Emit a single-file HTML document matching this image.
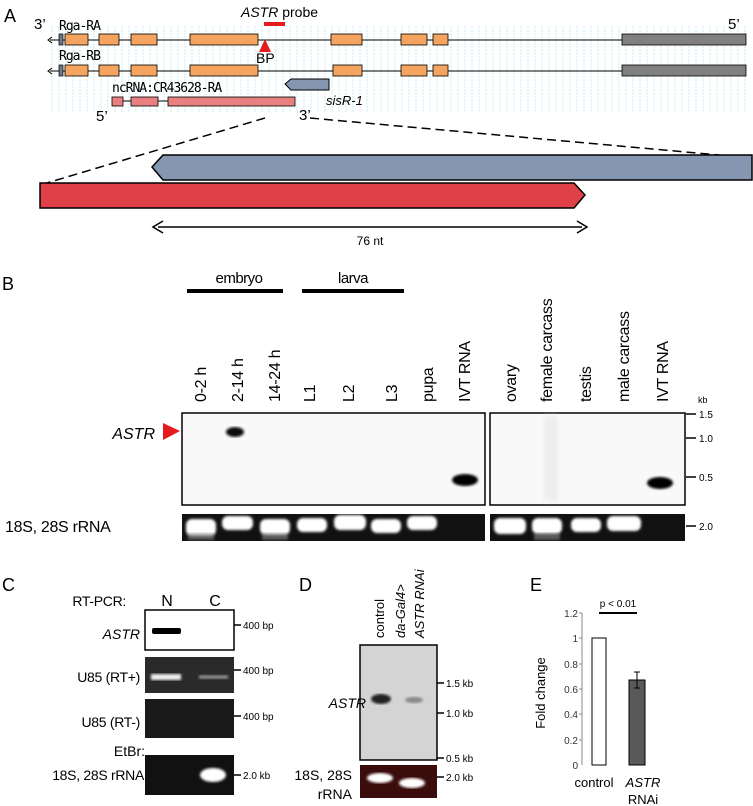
<!DOCTYPE html>
<html><head><meta charset="utf-8"><style>
body{margin:0;background:#fff}
svg{display:block;font-family:"Liberation Sans",sans-serif}
</style></head><body>
<svg width="753" height="806" viewBox="0 0 753 806" xmlns="http://www.w3.org/2000/svg">
<defs>
<pattern id="vl" width="7" height="10" patternUnits="userSpaceOnUse"><line x1="3" y1="0" x2="3" y2="10" stroke="#c8ecf0" stroke-width="1" stroke-dasharray="2,1"/></pattern>
<filter id="bl"><feGaussianBlur stdDeviation="2"/></filter>
<filter id="bl1"><feGaussianBlur stdDeviation="1.2"/></filter>
</defs>
<!-- Panel A -->
<rect x="50" y="26" width="700" height="86" fill="url(#vl)"/>
<text x="4" y="22" font-size="18">A</text>
<text x="34" y="29" font-size="15">3’</text>
<text x="728" y="29" font-size="15">5’</text>
<text x="241" y="17" font-size="14"><tspan font-style="italic">ASTR</tspan> probe</text>
<rect x="264" y="22" width="21" height="4" fill="#e41a1c"/>
<text x="59" y="30" font-size="13" font-family="DejaVu Sans Mono,monospace" letter-spacing="-1">Rga-RA</text>
<line x1="50" y1="40" x2="746" y2="40" stroke="#000"/>
<path d="M52 37 L48 40 L52 43" fill="none" stroke="#000"/>
<rect x="59" y="34" width="4" height="11" fill="#6a7a8a" stroke="#000" stroke-width="0.7"/>
<g fill="#f4a45e" stroke="#000" stroke-width="0.8">
<rect x="65" y="34" width="23" height="11"/><rect x="99" y="34" width="20" height="11"/><rect x="131" y="34" width="26" height="11"/><rect x="190" y="34" width="68" height="11"/><rect x="331" y="34" width="31" height="11"/><rect x="401" y="34" width="26" height="11"/><rect x="433" y="34" width="15" height="11"/>
</g>
<rect x="622" y="34" width="124" height="11" fill="#808080" stroke="#000" stroke-width="0.8"/>
<polygon points="265,39 259,52 271,52" fill="#e41a1c"/>
<text x="256" y="63" font-size="14">BP</text>
<text x="59" y="60" font-size="13" font-family="DejaVu Sans Mono,monospace" letter-spacing="-1">Rga-RB</text>
<line x1="50" y1="71" x2="746" y2="71" stroke="#000"/>
<path d="M52 68 L48 71 L52 74" fill="none" stroke="#000"/>
<rect x="59" y="65" width="4" height="11" fill="#6a7a8a" stroke="#000" stroke-width="0.7"/>
<g fill="#f4a45e" stroke="#000" stroke-width="0.8">
<rect x="65" y="65" width="23" height="11"/><rect x="99" y="65" width="20" height="11"/><rect x="131" y="65" width="26" height="11"/><rect x="190" y="65" width="68" height="11"/><rect x="333" y="65" width="29" height="11"/><rect x="401" y="65" width="26" height="11"/><rect x="433" y="65" width="15" height="11"/>
</g>
<rect x="622" y="65" width="124" height="11" fill="#808080" stroke="#000" stroke-width="0.8"/>
<polygon points="285,84 291,79 329,79 329,90 291,90" fill="#8496b0" stroke="#000" stroke-width="1"/>
<text x="326" y="105" font-size="13" font-style="italic">sisR-1</text>
<text x="112" y="92" font-size="13" font-family="DejaVu Sans Mono,monospace" letter-spacing="-1">ncRNA:CR43628-RA</text>
<line x1="112" y1="101" x2="295" y2="101" stroke="#000"/>
<g fill="#e88080" stroke="#000" stroke-width="0.8">
<rect x="112" y="97" width="11" height="9"/><rect x="131" y="97" width="27" height="9"/><rect x="168" y="97" width="127" height="9"/>
</g>
<text x="96" y="121" font-size="15">5’</text>
<text x="299" y="120" font-size="15">3’</text>
<line x1="265" y1="118" x2="40" y2="185" stroke="#000" stroke-width="1.5" stroke-dasharray="9,5"/>
<line x1="310" y1="118" x2="752" y2="158" stroke="#000" stroke-width="1.5" stroke-dasharray="9,5"/>
<polygon points="152,167 163,155 752,155 752,180 163,180" fill="#8496b0" stroke="#000" stroke-width="1.5"/>
<polygon points="40,183 574,183 585,195 574,208 40,208" fill="#e04048" stroke="#000" stroke-width="1.5"/>
<line x1="158" y1="227" x2="582" y2="227" stroke="#000" stroke-width="1.5"/>
<path d="M163 221 L153 227 L163 233 M577 221 L587 227 L577 233" fill="none" stroke="#000" stroke-width="1.5"/>
<text x="370" y="245" font-size="12" text-anchor="middle">76 nt</text>
<!-- Panel B -->
<text x="2" y="290" font-size="18">B</text>
<rect x="187" y="289" width="96" height="4" fill="#000"/>
<rect x="302" y="289" width="102" height="4" fill="#000"/>
<text x="239" y="283" font-size="15" text-anchor="middle" letter-spacing="-0.5">embryo</text>
<text x="353" y="283" font-size="15" text-anchor="middle" letter-spacing="-0.5">larva</text>
<g font-size="16" letter-spacing="-0.3">
<text transform="translate(206,402) rotate(-90)">0-2 h</text>
<text transform="translate(243,402) rotate(-90)">2-14 h</text>
<text transform="translate(280,402) rotate(-90)">14-24 h</text>
<text transform="translate(315,402) rotate(-90)">L1</text>
<text transform="translate(354,402) rotate(-90)">L2</text>
<text transform="translate(397,402) rotate(-90)">L3</text>
<text transform="translate(433,402) rotate(-90)">pupa</text>
<text transform="translate(470,402) rotate(-90)">IVT RNA</text>
<text transform="translate(516,402) rotate(-90)">ovary</text>
<text transform="translate(552,402) rotate(-90)">female carcass</text>
<text transform="translate(591,402) rotate(-90)">testis</text>
<text transform="translate(629,402) rotate(-90)">male carcass</text>
<text transform="translate(668,402) rotate(-90)">IVT RNA</text>
</g>
<rect x="182" y="413" width="303" height="92" fill="#f9f9f9" stroke="#000" stroke-width="1.5"/>
<rect x="490" y="413" width="195" height="92" fill="#f9f9f9" stroke="#000" stroke-width="1.5"/>
<rect x="544" y="416" width="14" height="85" fill="#eee" filter="url(#bl)"/>
<ellipse cx="235" cy="432" rx="9" ry="5" fill="#111" filter="url(#bl1)"/>
<ellipse cx="465" cy="480" rx="13" ry="6" fill="#000" filter="url(#bl1)"/>
<ellipse cx="660" cy="483" rx="13" ry="6" fill="#000" filter="url(#bl1)"/>
<text x="155" y="439" font-size="16" font-style="italic" text-anchor="end">ASTR</text>
<polygon points="163,423 180,431 163,440" fill="#e41a1c"/>
<text x="698" y="403" font-size="9">kb</text>
<g stroke="#000" stroke-width="1.5"><line x1="686" y1="414" x2="696" y2="414"/><line x1="686" y1="438" x2="696" y2="438"/><line x1="686" y1="477" x2="696" y2="477"/><line x1="686" y1="526" x2="696" y2="526"/></g>
<g font-size="10"><text x="699" y="418">1.5</text><text x="699" y="442">1.0</text><text x="699" y="481">0.5</text><text x="699" y="530">2.0</text></g>
<rect x="182" y="514" width="303" height="27" fill="#111"/>
<rect x="490" y="514" width="195" height="27" fill="#111"/>
<g fill="#fff" filter="url(#bl1)">
<rect x="186" y="519" width="30" height="17" rx="6"/><rect x="222" y="516" width="31" height="14" rx="6"/><rect x="260" y="519" width="30" height="16" rx="6"/><rect x="297" y="518" width="30" height="14" rx="6"/><rect x="334" y="515" width="32" height="15" rx="6"/><rect x="371" y="519" width="30" height="14" rx="6"/><rect x="407" y="516" width="30" height="14" rx="6"/>
<rect x="494" y="518" width="32" height="16" rx="6"/><rect x="532" y="518" width="30" height="16" rx="6"/><rect x="571" y="518" width="30" height="14" rx="6"/><rect x="607" y="516" width="34" height="15" rx="6"/>
</g>
<g fill="#888" opacity="0.6" filter="url(#bl1)">
<rect x="188" y="533" width="26" height="7"/><rect x="262" y="533" width="26" height="7"/><rect x="534" y="533" width="26" height="7"/>
</g>
<text x="5" y="532" font-size="16" letter-spacing="-0.3">18S, 28S rRNA</text>
<!-- Panel C -->
<text x="2" y="591" font-size="18">C</text>
<text x="126" y="606" font-size="14" text-anchor="end" letter-spacing="-0.3">RT-PCR:</text>
<text x="167" y="606" font-size="16" text-anchor="middle">N</text>
<text x="215" y="606" font-size="16" text-anchor="middle">C</text>
<rect x="145" y="610" width="89" height="40" fill="#fff" stroke="#000" stroke-width="1.5"/>
<rect x="152" y="628" width="29" height="6" rx="2" fill="#000"/>
<text x="140" y="639" font-size="14" font-style="italic" text-anchor="end">ASTR</text>
<rect x="145" y="657" width="89" height="36" fill="#2a2a2a"/>
<rect x="151" y="674" width="30" height="6" fill="#eee" filter="url(#bl1)"/>
<rect x="199" y="675" width="29" height="4" fill="#888" filter="url(#bl1)"/>
<rect x="145" y="699" width="89" height="39" fill="#1a1a1a"/>
<rect x="145" y="755" width="89" height="40" fill="#111"/>
<ellipse cx="213" cy="775" rx="13" ry="7" fill="#fff" filter="url(#bl1)"/>
<text x="140" y="682" font-size="14" text-anchor="end" letter-spacing="-0.3">U85 (RT+)</text>
<text x="140" y="727" font-size="14" text-anchor="end" letter-spacing="-0.3">U85 (RT-)</text>
<text x="145" y="756" font-size="14" text-anchor="end">EtBr:</text>
<text x="144" y="780" font-size="14" text-anchor="end" letter-spacing="-0.3">18S, 28S rRNA</text>
<g stroke="#000" stroke-width="1.5"><line x1="234" y1="625" x2="241" y2="625"/><line x1="234" y1="670" x2="241" y2="670"/><line x1="234" y1="716" x2="241" y2="716"/><line x1="234" y1="775" x2="241" y2="775"/></g>
<g font-size="10"><text x="243" y="629">400 bp</text><text x="243" y="674">400 bp</text><text x="243" y="720">400 bp</text><text x="243" y="779">2.0 kb</text></g>
<!-- Panel D -->
<text x="299" y="591" font-size="18">D</text>
<text transform="translate(384,638) rotate(-90)" font-size="13">control</text>
<text transform="translate(405,638) rotate(-90)" font-size="13" font-style="italic">da-Gal4&gt;</text>
<text transform="translate(424,638) rotate(-90)" font-size="13" font-style="italic">ASTR RNAi</text>
<rect x="360" y="645" width="77" height="115" fill="#d4d4d4" stroke="#000" stroke-width="1.5"/>
<ellipse cx="381" cy="699" rx="10" ry="5" fill="#222" filter="url(#bl1)"/>
<ellipse cx="414" cy="700" rx="9" ry="3" fill="#888" filter="url(#bl1)"/>
<text x="366" y="708" font-size="14" font-style="italic" text-anchor="end">ASTR</text>
<g stroke="#000" stroke-width="1.5"><line x1="437" y1="683" x2="444" y2="683"/><line x1="437" y1="713" x2="444" y2="713"/><line x1="437" y1="758" x2="444" y2="758"/><line x1="437" y1="777" x2="444" y2="777"/></g>
<g font-size="10"><text x="446" y="687">1.5 kb</text><text x="446" y="717">1.0 kb</text><text x="446" y="762">0.5 kb</text><text x="446" y="781">2.0 kb</text></g>
<rect x="360" y="765" width="77" height="33" fill="#3a0c0c"/>
<ellipse cx="380" cy="778" rx="13" ry="5" fill="#fff" filter="url(#bl1)"/>
<ellipse cx="412" cy="783" rx="13" ry="5" fill="#fff" filter="url(#bl1)"/>
<text x="352" y="780" font-size="14" text-anchor="end">18S, 28S</text>
<text x="352" y="799" font-size="14" text-anchor="end">rRNA</text>
<!-- Panel E -->
<text x="530" y="591" font-size="18">E</text>
<line x1="582" y1="613" x2="582" y2="765" stroke="#888"/>
<g font-size="10" fill="#333" text-anchor="end">
<text x="578" y="617">1.2</text><text x="578" y="642">1</text><text x="578" y="668">0.8</text><text x="578" y="693">0.6</text><text x="578" y="718">0.4</text><text x="578" y="744">0.2</text><text x="578" y="769">0</text>
</g>
<g stroke="#888"><line x1="579" y1="613" x2="582" y2="613"/><line x1="579" y1="638" x2="582" y2="638"/><line x1="579" y1="664" x2="582" y2="664"/><line x1="579" y1="689" x2="582" y2="689"/><line x1="579" y1="714" x2="582" y2="714"/><line x1="579" y1="740" x2="582" y2="740"/></g>
<rect x="592" y="638" width="14" height="127" fill="#fff" stroke="#000"/>
<rect x="629" y="680" width="16" height="85" fill="#595959" stroke="#000"/>
<path d="M637 672 V688 M634 672 H640 M634 688 H640" stroke="#000"/>
<line x1="599" y1="613" x2="637" y2="613" stroke="#000" stroke-width="2"/>
<text x="618" y="607" font-size="10" text-anchor="middle">p &lt; 0.01</text>
<text transform="translate(545,693) rotate(-90)" font-size="13" text-anchor="middle">Fold change</text>
<text x="594" y="787" font-size="13" text-anchor="middle">control</text>
<text x="643" y="787" font-size="13" font-style="italic" text-anchor="middle">ASTR</text>
<text x="643" y="804" font-size="13" text-anchor="middle">RNAi</text>
</svg>
</body></html>
